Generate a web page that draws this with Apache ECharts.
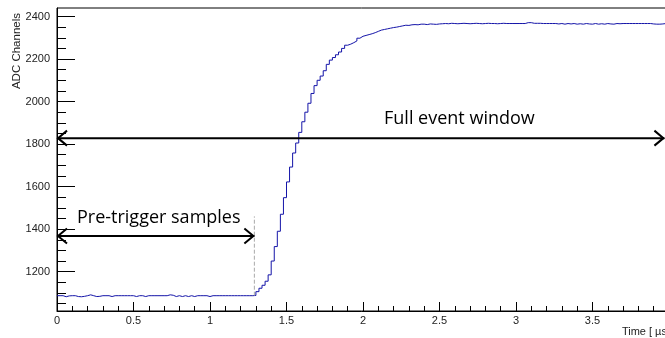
<!DOCTYPE html>
<html>
<head>
<meta charset="utf-8">
<script src="https://cdn.jsdelivr.net/npm/echarts@6/dist/echarts.min.js"></script>
<style>
html,body{margin:0;padding:0;background:#fff;}
#c{width:665px;height:338px;}
</style>
</head>
<body>
<div id="c"></div>
<script>
// ---- data (ADC channels per 0.02 µs bin) ----
const binWidth = 0.02;
const baseline = [1087,1087,1082,1086,1087,1087,1083,1082,1084,1087,
  1091,1087,1083,1084,1087,1087,1087,1083,1087,1087,
  1087,1087,1087,1087,1087,1083,1087,1087,1083,1087,
  1087,1087,1087,1087,1087,1087,1091,1089,1083,1087,
  1083,1087,1083,1087,1083,1087,1087,1087,1087,1083,
  1087,1087,1087,1087,1087,1087,1087,1087,1087,1087,
  1087,1087,1087,1087];
const rise = [1088,1106,1122,1136,1155,1185,1250,1318,1390,1470,
  1548,1622,1692,1758,1805,1855,1905,1950,1992,2038,
  2075,2100,2120,2145,2175,2195,2207,2220,2233,2250,
  2265,2270,2277,2285,2298,2307,2311,2315,2319,2324,
  2330,2336,2339,2342,2345,2348,2350,2353,2356,2359,
  2358,2361,2362,2361,2364,2364,2362,2365,2364,2363,2365];
const plateau = [2366,2367,2366,2368,2367,2366,2367,2368,2367,2366,
  2367,2368,2367,2366,2367,2368,2367,2367,2366,2367,
  2368,2367,2367,2367,2367,2367,2367,2367,2371,2371,
  2368,2368,2368,2367,2367,2367,2367,2367,2365,2367,
  2364,2367,2365,2367,2364,2366,2364,2367,2365,2364,
  2367,2364,2366,2364,2367,2365,2364,2367,2366,2367,
  2367,2367,2367,2367,2367,2367,2367,2367,2367,2365,
  2364,2364,2365,2367,2367];
const yMajorTicks = [1200,1400,1600,1800,2000,2200,2400];
const yMinorTicks = [1050,1100,1150,1250,1300,1350,1450,1500,1550,1650,1700,1750,
  1850,1900,1950,2050,2100,2150,2250,2300,2350];
// annotations (data coordinates)
const fullWindow = {from: 0, to: 3.97, level: 1828, label: 'Full event window', labelAt: [2.63, 1917]};
const preTrigger = {from: 0, to: 1.29, level: 1368, label: 'Pre-trigger samples', labelAt: [0.665, 1452]};
const triggerMarker = {t: 1.29, low: 1087, high: 1460};

const values = baseline.concat(rise, plateau);
const seriesData = values.map((v, i) => [i * binWidth, v]);
seriesData.push([values.length * binWidth, values[values.length - 1]]);

const chart = echarts.init(document.getElementById('c'), null, {renderer: 'canvas'});
const labelFont = {fontFamily: '"Liberation Sans", Arial, sans-serif', fontSize: 11, color: '#222'};
chart.setOption({
  animation: false,
  backgroundColor: '#fff',
  grid: {left: 57, top: 8, width: 612, bottom: 27, show: true, containLabel: false, outerBoundsMode: 'none',
    borderColor: '#000', borderWidth: 1, backgroundColor: 'transparent'},
  xAxis: {
    type: 'value', min: 0, max: 4, interval: 0.5,
    axisLine: {lineStyle: {color: '#000', width: 1}},
    axisTick: {inside: true, length: 9, lineStyle: {color: '#000'}},
    minorTick: {show: true, splitNumber: 5, length: 5, lineStyle: {color: '#000'}},
    axisLabel: Object.assign({margin: 4, showMaxLabel: true, formatter: v => String(v)}, labelFont),
    splitLine: {show: false}
  },
  yAxis: [{
    type: 'value', min: 1015, max: 2440,
    axisLine: {show: true, lineStyle: {color: '#000', width: 1}},
    axisTick: {inside: true, length: 18, customValues: yMajorTicks, lineStyle: {color: '#000'}},
    axisLabel: Object.assign({margin: 7, customValues: yMajorTicks, formatter: v => String(v)}, labelFont),
    splitLine: {show: false}
  }, {
    type: 'value', min: 1015, max: 2440, position: 'left',
    axisLine: {show: false},
    axisTick: {show: true, inside: true, length: 9, customValues: yMinorTicks, lineStyle: {color: '#000'}},
    axisLabel: {show: false},
    splitLine: {show: false}
  }],
  series: [{
    type: 'line', step: 'end', showSymbol: false, yAxisIndex: 0,
    data: seriesData,
    lineStyle: {color: '#1414a8', width: 1},
    silent: true
  }]
});

const P = (t, v) => chart.convertToPixel({xAxisIndex: 0, yAxisIndex: 0}, [t, v]);
const annFont = '18px "Open Sans", "Noto Sans", sans-serif';
function arrow(a) {
  const L = P(a.from, a.level), R = P(a.to, a.level);
  const hw = 10, hh = 7.5;
  const st = {stroke: '#000', lineWidth: 2, fill: null};
  return [
    {type: 'line', shape: {x1: L[0], y1: L[1], x2: R[0], y2: R[1]}, style: st, z: 100},
    {type: 'polyline', shape: {points: [[L[0] + hw, L[1] - hh], [L[0] + 1, L[1]], [L[0] + hw, L[1] + hh]]}, style: st, z: 100},
    {type: 'polyline', shape: {points: [[R[0] - hw, R[1] - hh], [R[0] - 1, R[1]], [R[0] - hw, R[1] + hh]]}, style: st, z: 100}
  ];
}
function label(a) {
  const p = P(a.labelAt[0], a.labelAt[1]);
  return {type: 'text', x: p[0], y: p[1], z: 100,
    style: {text: a.label, font: annFont, fill: '#000', align: 'center', verticalAlign: 'middle'}};
}
const tm0 = P(triggerMarker.t, triggerMarker.low), tm1 = P(triggerMarker.t, triggerMarker.high);
const axisEnd = P(4, 1015);
const graphics = [].concat(
  arrow(fullWindow), arrow(preTrigger), [label(fullWindow), label(preTrigger)],
  [{type: 'line', z: 90, shape: {x1: tm0[0], y1: tm0[1], x2: tm1[0], y2: tm1[1]},
    style: {stroke: '#aaa', lineWidth: 1, lineDash: [4, 2]}},
   {type: 'text', x: 17, y: 13, rotation: Math.PI / 2,
    style: {text: 'ADC Channels', font: '11.5px "Liberation Sans", Arial, sans-serif', fill: '#222', align: 'right', verticalAlign: 'middle'}},
   {type: 'text', x: axisEnd[0] + 1, y: 332,
    style: {text: 'Time [ µs]', font: '11px "Liberation Sans", Arial, sans-serif', fill: '#222', align: 'right', verticalAlign: 'middle'}}]
);
chart.setOption({graphic: graphics});
</script>
</body>
</html>
